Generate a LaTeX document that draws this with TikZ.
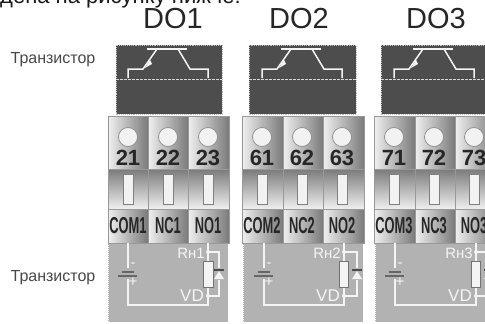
\documentclass[tikz,border=0pt]{standalone}
\usepackage{fontspec}
\usepackage{graphicx}
\setmainfont{Liberation Sans}
\definecolor{darkbox}{HTML}{4D4D4D}
\definecolor{greybox}{HTML}{B2B2B2}
\definecolor{wirecol}{HTML}{F4F4F4}
\newcommand{\termtxt}[1]{\scalebox{.56}[1]{#1}}
\tikzset{
 dotitle/.style={font=\fontsize{29}{29}\selectfont,text=black!85,inner sep=0pt},
 sidetxt/.style={font=\fontsize{16}{16}\selectfont,text=black!72,inner sep=0pt},
 numtxt/.style={font=\fontsize{22}{22}\selectfont\bfseries,text=black!85,inner sep=0pt},
 termlbl/.style={font=\fontsize{23}{23}\selectfont\bfseries,text=black!85,inner sep=0pt},
 circlbl/.style={font=\fontsize{15}{15}\selectfont,text=wirecol,inner sep=0pt},
 vdlbl/.style={font=\fontsize{17}{17}\selectfont,text=wirecol,inner sep=0pt},
 topbox/.style={fill=darkbox,draw=black!25,densely dotted,line width=0.9pt},
 toprule/.style={black!15,dash pattern=on 2.5pt off 1.5pt,line width=1pt},
 lowbox/.style={fill=greybox,draw=white,densely dotted,line width=1pt},
 wire/.style={draw=wirecol,line width=1.5pt},
 cellbox/.style={draw=black!40,line width=0.6pt,left color=black!6,right color=black!52},
 midbox/.style={draw=black!40,line width=0.6pt,top color=black!52,bottom color=black!6},
 hole/.style={draw=black!45,fill=black!5,line width=0.7pt},
 slot/.style={draw=black!50,fill=black!5,line width=0.8pt},
}
\begin{document}
\begin{tikzpicture}[x=1pt,y=-1pt]
 \useasboundingbox (0,0) rectangle (485,324);
 \clip (0,0) rectangle (485,324);
 \node[anchor=base west,font=\fontsize{22}{22}\selectfont,text=black!90,inner sep=0pt] (intro) at (0,4) {дена на рисунку нижче:};
 \node[sidetxt] (trtop) at (53,60) {Транзистор};
 \node[sidetxt] (trlow) at (53,278) {Транзистор};
 % DO1
 \begin{scope}[xshift=0pt]
 \node[dotitle,anchor=base] (do1) at (173,28.5) {DO1};
 \draw[topbox](116,45) rectangle (222,114);
 \draw[toprule](116,79)--(222,79);
 \draw[wire](147,49)--(187,49);
 \draw[wire](128,78)--(128,69)--(143,69)--(157,49);
 \draw[wire](178,49)--(190,69)--(208,69)--(208,78);
 \fill[wirecol](145,68)--(152,64)--(150,60)--cycle;
 \draw[lowbox](108,243) rectangle (228,322);
 \draw[cellbox](108,116) rectangle (148,169);
 \draw[cellbox](148,116) rectangle (188,169);
 \draw[cellbox](188,116) rectangle (229,169);
 \draw[midbox](108,169) rectangle (148,209);
 \draw[midbox](148,169) rectangle (188,209);
 \draw[midbox](188,169) rectangle (229,209);
 \draw[cellbox](108,209) rectangle (148,243);
 \draw[cellbox](148,209) rectangle (188,243);
 \draw[cellbox](188,209) rectangle (229,243);
 \draw[hole](128,137) circle (9.5);
 \draw[hole](168,137) circle (9.5);
 \draw[hole](208,137) circle (9.5);
 \draw[slot](123,174) rectangle (133,204);
 \draw[slot](163,174) rectangle (173,204);
 \draw[slot](203,174) rectangle (213,204);
 \node[numtxt] (n21) at (128,158) {21};
 \node[numtxt] (n22) at (168,158) {22};
 \node[numtxt] (n23) at (208,158) {23};
 \node[termlbl] (com1) at (128,226) {\termtxt{COM1}};
 \node[termlbl] (nc1) at (168,226) {\termtxt{NC1}};
 \node[termlbl] (no1) at (208,226) {\termtxt{NO1}};
 \draw[wire](128,243)--(128,305)--(208,305)--(208,243);
 \draw[wire](208,252)--(219,252)--(219,296)--(208,296);
 \fill[wirecol](208,252) circle (2);
 \fill[wirecol](208,296) circle (2);
 \draw[draw=black!55,fill=wirecol,line width=0.5pt](203,261) rectangle (213,287);
 \fill[greybox](214,268) rectangle (224,280);
 \draw[black!70,line width=1.2pt](214,270)--(224,270);
 \fill[wirecol](219,271)--(224,279)--(214,279)--cycle;
 \fill[greybox](117,268) rectangle (139,279);
 \draw[black!60,line width=1.8pt](122,272)--(134,272);
 \draw[black!60,line width=1.8pt](118,276)--(137,276);
 \node[circlbl] (minus1) at (133,265) {-};
 \node[circlbl] (plus1) at (133,282) {+};
 \node[circlbl,anchor=east] (rn1) at (205,253) {Rн1};
 \node[vdlbl,anchor=east] (vd1) at (204,296) {VD};
 \end{scope}
 % DO2
 \begin{scope}[xshift=134pt]
 \node[dotitle,anchor=base] (do2) at (165,28.5) {DO2};
 \draw[topbox](115,45) rectangle (222,114);
 \draw[toprule](115,79)--(222,79);
 \draw[wire](147,49)--(187,49);
 \draw[wire](128,78)--(128,69)--(143,69)--(157,49);
 \draw[wire](178,49)--(190,69)--(208,69)--(208,78);
 \fill[wirecol](145,68)--(152,64)--(150,60)--cycle;
 \draw[lowbox](109,243) rectangle (229,322);
 \draw[cellbox](108,116) rectangle (149,169);
 \draw[cellbox](149,116) rectangle (189,169);
 \draw[cellbox](189,116) rectangle (230,169);
 \draw[midbox](108,169) rectangle (149,209);
 \draw[midbox](149,169) rectangle (189,209);
 \draw[midbox](189,169) rectangle (230,209);
 \draw[cellbox](108,209) rectangle (149,243);
 \draw[cellbox](149,209) rectangle (189,243);
 \draw[cellbox](189,209) rectangle (230,243);
 \draw[hole](128,137) circle (9.5);
 \draw[hole](168,137) circle (9.5);
 \draw[hole](208,137) circle (9.5);
 \draw[slot](123,174) rectangle (133,204);
 \draw[slot](163,174) rectangle (173,204);
 \draw[slot](203,174) rectangle (213,204);
 \node[numtxt] (n61) at (128,158) {61};
 \node[numtxt] (n62) at (168,158) {62};
 \node[numtxt] (n63) at (208,158) {63};
 \node[termlbl] (com2) at (128,226) {\termtxt{COM2}};
 \node[termlbl] (nc2) at (168,226) {\termtxt{NC2}};
 \node[termlbl] (no2) at (208,226) {\termtxt{NO2}};
 \draw[wire](130,243)--(130,305)--(210,305)--(210,243);
 \draw[wire](210,252)--(223,252)--(223,296)--(210,296);
 \fill[wirecol](210,252) circle (2);
 \fill[wirecol](210,296) circle (2);
 \draw[draw=black!55,fill=wirecol,line width=0.5pt](205,261) rectangle (214,287);
 \fill[greybox](218,268) rectangle (228,280);
 \draw[black!70,line width=1.2pt](218,270)--(228,270);
 \fill[wirecol](223,271)--(228,279)--(218,279)--cycle;
 \fill[greybox](119,268) rectangle (141,279);
 \draw[black!60,line width=1.8pt](124,272)--(136,272);
 \draw[black!60,line width=1.8pt](120,276)--(139,276);
 \node[circlbl] (minus2) at (135,265) {-};
 \node[circlbl] (plus2) at (135,282) {+};
 \node[circlbl,anchor=east] (rn2) at (207,253) {Rн2};
 \node[vdlbl,anchor=east] (vd2) at (206,296) {VD};
 \end{scope}
 % DO3
 \begin{scope}[xshift=266pt]
 \node[dotitle,anchor=base] (do3) at (170,28.5) {DO3};
 \draw[topbox](115,45) rectangle (222,114);
 \draw[toprule](115,79)--(222,79);
 \draw[wire](147,49)--(187,49);
 \draw[wire](128,78)--(128,69)--(143,69)--(157,49);
 \draw[wire](178,49)--(190,69)--(208,69)--(208,78);
 \fill[wirecol](145,68)--(152,64)--(150,60)--cycle;
 \draw[lowbox](109,243) rectangle (229,322);
 \draw[cellbox](108,116) rectangle (149,169);
 \draw[cellbox](149,116) rectangle (189,169);
 \draw[cellbox](189,116) rectangle (230,169);
 \draw[midbox](108,169) rectangle (149,209);
 \draw[midbox](149,169) rectangle (189,209);
 \draw[midbox](189,169) rectangle (230,209);
 \draw[cellbox](108,209) rectangle (149,243);
 \draw[cellbox](149,209) rectangle (189,243);
 \draw[cellbox](189,209) rectangle (230,243);
 \draw[hole](128,137) circle (9.5);
 \draw[hole](168,137) circle (9.5);
 \draw[hole](208,137) circle (9.5);
 \draw[slot](123,174) rectangle (133,204);
 \draw[slot](163,174) rectangle (173,204);
 \draw[slot](203,174) rectangle (213,204);
 \node[numtxt] (n71) at (128,158) {71};
 \node[numtxt] (n72) at (168,158) {72};
 \node[numtxt] (n73) at (208,158) {73};
 \node[termlbl] (com3) at (128,226) {\termtxt{COM3}};
 \node[termlbl] (nc3) at (168,226) {\termtxt{NC3}};
 \node[termlbl] (no3) at (208,226) {\termtxt{NO3}};
 \draw[wire](129,243)--(129,305)--(210,305)--(210,243);
 \draw[wire](210,252)--(223,252)--(223,296)--(210,296);
 \fill[wirecol](210,252) circle (2);
 \fill[wirecol](210,296) circle (2);
 \draw[draw=black!55,fill=wirecol,line width=0.5pt](205,261) rectangle (214,287);
 \fill[greybox](218,268) rectangle (228,280);
 \draw[black!70,line width=1.2pt](218,270)--(228,270);
 \fill[wirecol](223,271)--(228,279)--(218,279)--cycle;
 \fill[greybox](118,268) rectangle (140,279);
 \draw[black!60,line width=1.8pt](123,272)--(135,272);
 \draw[black!60,line width=1.8pt](119,276)--(138,276);
 \node[circlbl] (minus3) at (134,265) {-};
 \node[circlbl] (plus3) at (134,282) {+};
 \node[circlbl,anchor=east] (rn3) at (207,253) {Rн3};
 \node[vdlbl,anchor=east] (vd3) at (206,296) {VD};
 \end{scope}
\end{tikzpicture}
\end{document}
